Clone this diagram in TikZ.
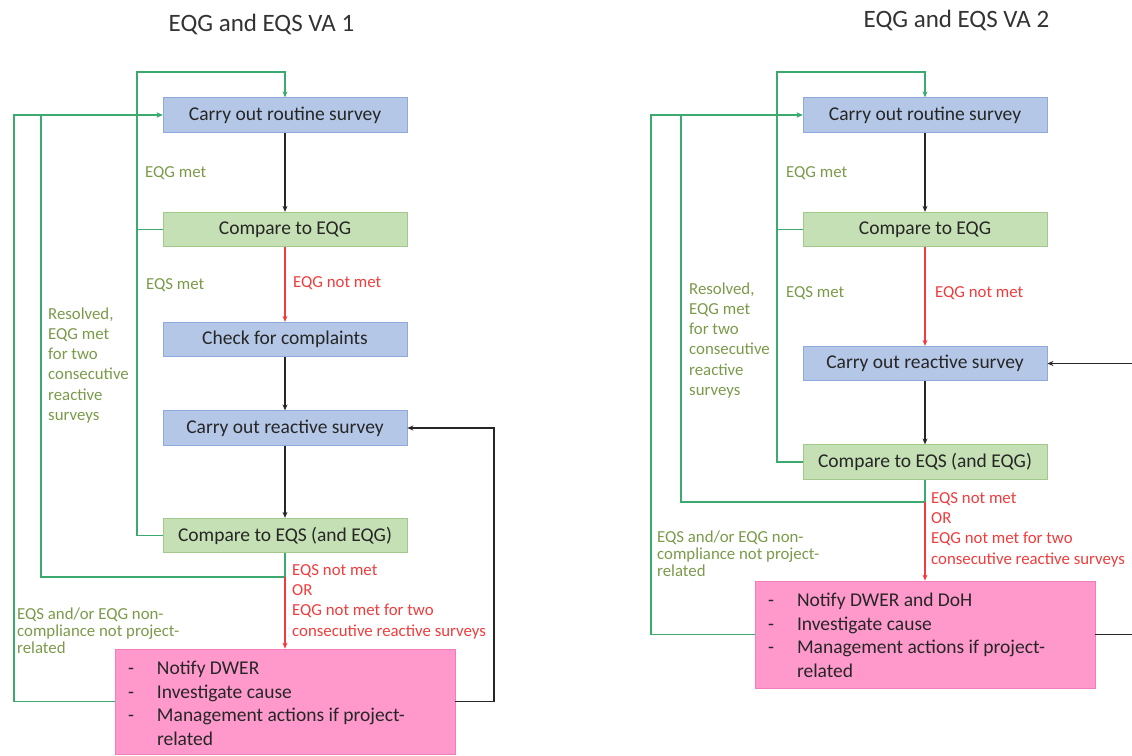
\documentclass[tikz,border=0pt]{standalone}
\usepackage{fontspec}
\setmainfont{Carlito}
\usetikzlibrary{arrows.meta}

\definecolor{boxblue}{HTML}{B4C7E7}
\definecolor{edgeblue}{HTML}{8EA9DB}
\definecolor{boxgreen}{HTML}{C5E0B4}
\definecolor{edgegreen}{HTML}{A3C98A}
\definecolor{boxpink}{HTML}{FF99CC}
\definecolor{edgepink}{HTML}{F27DBE}
\definecolor{passgreen}{HTML}{3CAA6E}
\definecolor{notegreen}{HTML}{7A9A4A}
\definecolor{notered}{HTML}{F03C3C}

\begin{document}
\begin{tikzpicture}[x=1pt,y=1pt,yscale=-1,xscale=1,
		surveybox/.style={draw=edgeblue, fill=boxblue, line width=0.8pt, minimum width=244, minimum height=34.5, inner sep=0pt, text=black!85, font=\fontsize{19.5}{23.5}\selectfont},
		comparebox/.style={surveybox, draw=edgegreen, fill=boxgreen},
		actionbox/.style={draw=edgepink, fill=boxpink, line width=0.8pt, minimum width=340, inner sep=0pt, text=black!85, font=\fontsize{19.5}{23.5}\selectfont},
		flowline/.style={draw=black!85, line width=1.5pt, -{Stealth[length=6pt,width=5pt]}},
		failline/.style={flowline, draw=notered},
		passline/.style={draw=passgreen, line width=1.5pt},
		heading/.style={anchor=base, inner sep=0pt, text=black!80, font=\fontsize{25}{30}\selectfont},
		greennote/.style={anchor=base west, inner sep=0pt, align=left, text=notegreen, font=\fontsize{16.8}{20.3}\selectfont},
		rednote/.style={greennote, text=notered}]
		\useasboundingbox (0,0) rectangle (1132,755);

		% Titles
		\node[heading] (ttl1) at (261.5,31) {EQG and EQS VA 1};
		\node[heading] (ttl2) at (956.5,27) {EQG and EQS VA 2};

		% Boxes of VA 1
		\node[surveybox] (rs1) at (285,115) {Carry out routine survey};
		\node[comparebox] (eqg1) at (285,229.5) {Compare to EQG};
		\node[surveybox] (cc1) at (285,339.5) {Check for complaints};
		\node[surveybox] (rv1) at (285,428) {Carry out reactive survey};
		\node[comparebox] (eqs1) at (285,535.5) {Compare to EQS (and EQG)};
		\node[actionbox, minimum height=105] (pk1) at (285,701.5) {\raisebox{-4pt}[\height][\depth]{\begin{tabular}{@{}p{29pt}@{}p{285pt}@{}}-&Notify DWER\\-&Investigate cause\\-&Management actions if project-\\&related\end{tabular}}};

		% Bends of the loops of VA 1
		\coordinate (top1) at (137,72);
		\coordinate (res1) at (41,577);
		\coordinate (out1) at (14,115);
		\coordinate (back1) at (494,428);

		% Main flow of VA 1
		\draw[flowline] (rs1) -- (eqg1);
		\draw[failline] (eqg1) -- (cc1);
		\draw[flowline] (cc1) -- (rv1);
		\draw[flowline] (rv1) -- (eqs1);

		% Green loops back to the routine survey (VA 1)
		\draw[passline, -{Stealth[length=6pt,width=5pt]}] (eqs1.west) -| (top1) -| (rs1.north);
		\draw[passline] (eqg1.west) -- (eqg1.west -| top1);
		\draw[passline, -{Stealth[length=6pt,width=5pt]}] (eqs1.south) |- (res1) |- (rs1.west);
		\draw[passline, -{Stealth[length=6pt,width=5pt]}] (pk1.west) -| (out1) -- (rs1.west);

		% Escalation and return to the reactive survey (VA 1)
		\draw[failline] (eqs1.south |- res1) -- (pk1);
		\draw[flowline] (pk1.east) -| (back1) -- (rv1.east);

		% Labels of VA 1 (multi-line labels sit on their last baseline)
		\node[greennote] (met1) at (145,177) {EQG met};
		\node[greennote] (sok1) at (146,289) {EQS met};
		\node[rednote] (nmet1) at (293,287) {EQG not met};
		\node[greennote] (rsv1) at (48,420.5) {Resolved,\\EQG met\\for two\\consecutive\\reactive\\surveys};
		\node[rednote] (esc1) at (292,636) {EQS not met\\OR\\EQG not met for two\\consecutive reactive surveys};
		\node[greennote, font=\fontsize{16.8}{16.8}\selectfont] (npr1) at (17,653.5) {EQS and/or EQG non-\\compliance not project-\\related};

		% Boxes of VA 2
		\node[surveybox] (rs2) at (925,115) {Carry out routine survey};
		\node[comparebox] (eqg2) at (925,229.5) {Compare to EQG};
		\node[surveybox] (rv2) at (925,363.5) {Carry out reactive survey};
		\node[comparebox] (eqs2) at (925,462) {Compare to EQS (and EQG)};
		\node[actionbox, minimum height=107] (pk2) at (925,634.5) {\raisebox{-3pt}[\height][\depth]{\begin{tabular}{@{}p{29pt}@{}p{285pt}@{}}-&Notify DWER and DoH\\-&Investigate cause\\-&Management actions if project-\\&related\end{tabular}}};

		% Bends of the loops of VA 2
		\coordinate (top2) at (777,72);
		\coordinate (res2) at (681,502);
		\coordinate (out2) at (651,115);
		\coordinate (back2) at (1150,363.5);

		% Main flow of VA 2
		\draw[flowline] (rs2) -- (eqg2);
		\draw[failline] (eqg2) -- (rv2);
		\draw[flowline] (rv2) -- (eqs2);

		% Green loops back to the routine survey (VA 2)
		\draw[passline, -{Stealth[length=6pt,width=5pt]}] (eqs2.west) -| (top2) -| (rs2.north);
		\draw[passline] (eqg2.west) -- (eqg2.west -| top2);
		\draw[passline, -{Stealth[length=6pt,width=5pt]}] (eqs2.south) |- (res2) |- (rs2.west);
		\draw[passline, -{Stealth[length=6pt,width=5pt]}] (pk2.west) -| (out2) -- (rs2.west);

		% Escalation and return to the reactive survey (VA 2), cut at the page edge
		\draw[failline] (eqs2.south |- res2) -- (pk2);
		\begin{scope}
			\clip (0,0) rectangle (1132,755);
			\draw[flowline] (pk2.east) -| (back2) -- (rv2.east);
		\end{scope}

		% Labels of VA 2 (multi-line labels sit on their last baseline)
		\node[greennote] (met2) at (786,177) {EQG met};
		\node[greennote] (sok2) at (786,297) {EQS met};
		\node[rednote] (nmet2) at (935,297) {EQG not met};
		\node[greennote] (rsv2) at (689,395.5) {Resolved,\\EQG met\\for two\\consecutive\\reactive\\surveys};
		\node[rednote] (esc2) at (931,564) {EQS not met\\OR\\EQG not met for two\\consecutive reactive surveys};
		\node[greennote, font=\fontsize{16.8}{16.8}\selectfont] (npr2) at (657,576.5) {EQS and/or EQG non-\\compliance not project-\\related};
	\end{tikzpicture}
\end{document}
